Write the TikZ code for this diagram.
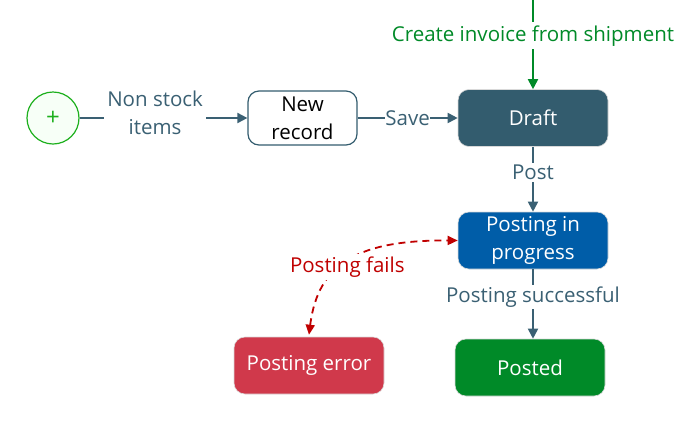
\documentclass[tikz,border=0pt]{standalone}
\usepackage{fontspec}
\setmainfont{Open Sans}
\usetikzlibrary{arrows.meta}
\definecolor{slate}{HTML}{335C6E}
\definecolor{lineblue}{HTML}{3A6073}
\definecolor{progblue}{HTML}{005DA8}
\definecolor{okgreen}{HTML}{008A28}
\definecolor{errred}{HTML}{D0394B}
\definecolor{failred}{HTML}{C00000}
\definecolor{startgreen}{HTML}{1DB01D}
\tikzset{
	state/.style={rounded corners=11pt, minimum width=150pt, minimum height=57pt, align=center, text=white, draw=white!70!gray, line width=0.6pt},
	lbl/.style={fill=white, text=lineblue, inner sep=1pt, align=center},
	flow/.style={draw=lineblue, line width=1.8pt, -{Triangle[length=10pt,width=10pt]}},
}
\begin{document}
\begin{tikzpicture}[x=1pt, y=-1pt, font=\fontsize{20.5}{27}\selectfont]
			\useasboundingbox (0,0) rectangle (697,432);
			% Define nodes with their coordinates
			\node[circle, draw=startgreen, line width=1.2pt, fill=green!3, minimum size=52pt, text=startgreen, inner sep=0pt, font=\fontsize{24}{24}\selectfont] (start) at (53, 118) {+};
			\node[rounded corners=11pt, draw=slate, line width=1.2pt, fill=white, minimum width=109pt, minimum height=54pt, align=center, text=black] (new) at (302.5, 118) {New\\[1pt]record};
			\node[state, fill=slate] (draft) at (533, 118) {Draft};
			\node[state, fill=progblue] (progress) at (533, 240.5) {Posting in\\[1pt]progress};
			\node[state, fill=okgreen] (posted) at (530, 367.5) {Posted};
			\node[state, fill=errred] (error) at (309, 365.5) {Posting error};
			\coordinate (top) at (533, 0);

			% Draw edges with labels
			\draw[flow] (start) -- (new) node[lbl, pos=0.45, inner sep=3pt, yshift=5pt] {Non stock\\[1pt]items};
			\draw[flow] (new) -- (draft) node[lbl, midway, inner sep=0pt] {Save};
			\draw[flow, draw=okgreen] (top) -- (draft) node[lbl, pos=0.4, text=okgreen, inner sep=3pt] {Create invoice from shipment};
			\draw[flow] (draft) -- (progress) node[lbl, pos=0.4, inner sep=2pt] {Post};
			\draw[flow] (progress.south) -- (posted.north -| progress.south) node[lbl, pos=0.4, inner sep=2pt] {Posting successful};

			\draw[failred, line width=1.8pt, dash pattern=on 7pt off 5pt, {Triangle[length=10pt,width=9pt]}-{Triangle[length=10pt,width=9pt]}] (error.north) ++(0,-2) .. controls (318, 262) and (360, 240) .. (progress.west) node[lbl, pos=0.48, text=failred, inner sep=3pt, yshift=-5pt] {Posting fails};
		\end{tikzpicture}
\end{document}
